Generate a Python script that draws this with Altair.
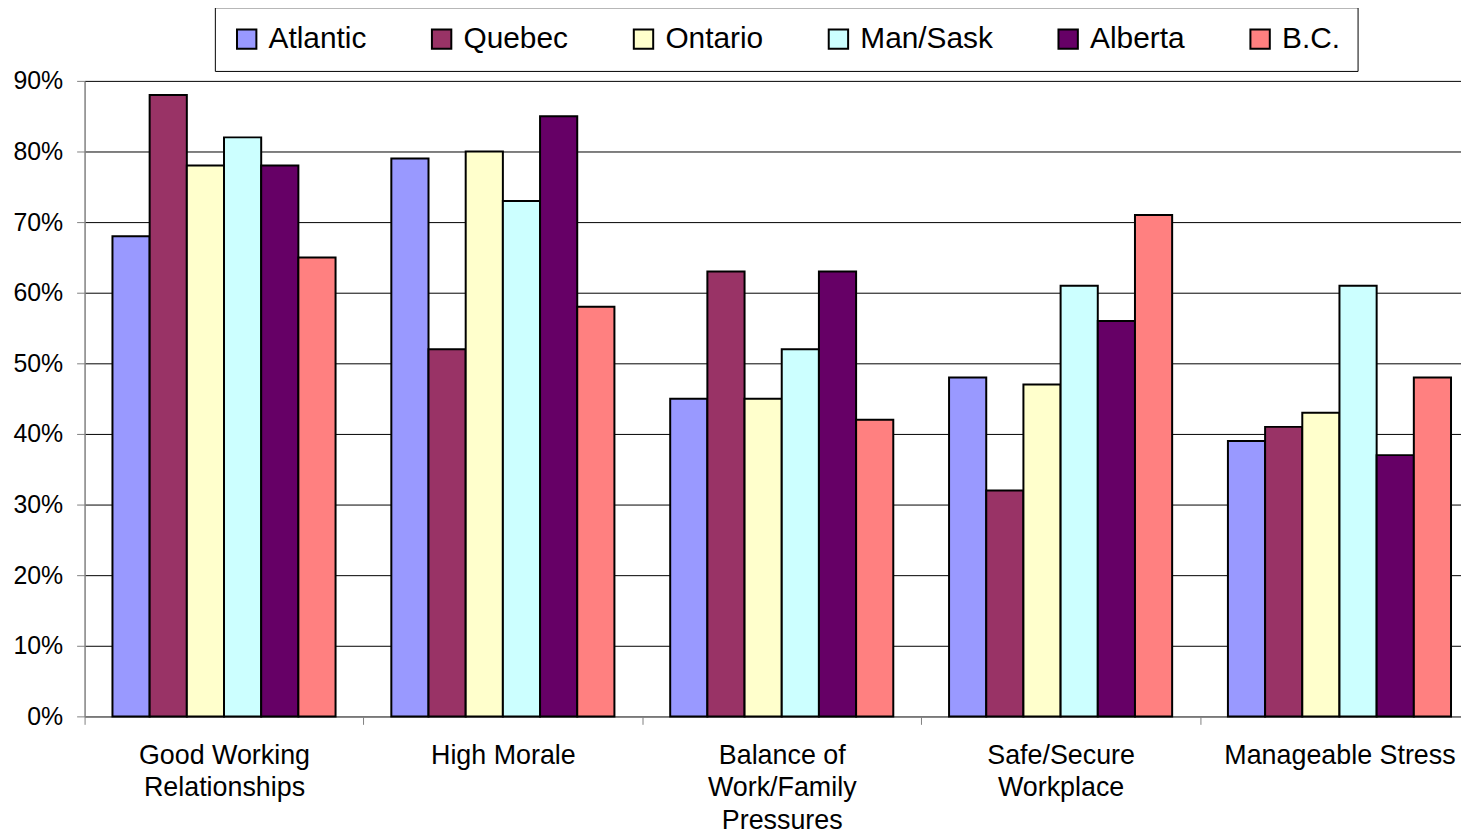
import altair as alt
import pandas as pd

categories = ["Good Working Relationships", "High Morale", "Balance of Work/Family Pressures",
              "Safe/Secure Workplace", "Manageable Stress"]
category_labels = ["Good Working|Relationships", "High Morale", "Balance of|Work/Family|Pressures",
                   "Safe/Secure|Workplace", "Manageable Stress"]
regions = ["Atlantic", "Quebec", "Ontario", "Man/Sask", "Alberta", "B.C."]
colors = ["#9999FF", "#993366", "#FFFFCC", "#CCFFFF", "#660066", "#FF8080"]

atlantic = [0.68, 0.79, 0.45, 0.48, 0.39]
quebec = [0.88, 0.52, 0.63, 0.32, 0.41]
ontario = [0.78, 0.80, 0.45, 0.47, 0.43]
mansask = [0.82, 0.73, 0.52, 0.61, 0.61]
alberta = [0.78, 0.85, 0.63, 0.56, 0.37]
bc = [0.65, 0.58, 0.42, 0.71, 0.48]

series = [atlantic, quebec, ontario, mansask, alberta, bc]
rows = []
for r, vals in zip(regions, series):
    for c, lab, v in zip(categories, category_labels, vals):
        rows.append({"Region": r, "Category": lab, "Value": v})
df = pd.DataFrame(rows)

FONT = "Liberation Sans"
W = 1402
STEP = W / 5

chart = alt.Chart(df).mark_bar(stroke="black", strokeWidth=2).encode(
    x=alt.X("Category:N", sort=category_labels, title=None,
            scale=alt.Scale(paddingInner=0.2, paddingOuter=0.1),
            axis=alt.Axis(labelAngle=0, labelExpr="split(datum.label, '|')",
                          labelFont=FONT, labelFontSize=27, labelColor="black",
                          labelPadding=18, labelLineHeight=33, labelBaseline="top",
                          labelLimit=0,
                          tickOffset=-STEP / 2, labelOffset=STEP / 2, tickSize=8,
                          tickColor="#808080", domainColor="#808080", domainWidth=1.5)),
    xOffset=alt.XOffset("Region:N", sort=regions),
    y=alt.Y("Value:Q", title=None,
            scale=alt.Scale(domain=[0, 0.9], nice=False),
            axis=alt.Axis(format=".0%", values=[i / 10 for i in range(10)],
                          labelFont=FONT, labelFontSize=25, labelColor="black",
                          labelPadding=14, tickSize=8, tickColor="#808080",
                          domainColor="#808080", domainWidth=1.5,
                          grid=True, gridColor="black", gridWidth=1)),
    color=alt.Color("Region:N", sort=regions,
                    scale=alt.Scale(domain=regions, range=colors),
                    legend=alt.Legend(title=None, orient="none", direction="horizontal",
                                      legendX=131, legendY=-74,
                                      labelFont=FONT, labelFontSize=30, labelColor="black",
                                      symbolType="square", symbolSize=380,
                                      symbolStrokeColor="black", symbolStrokeWidth=2,
                                      labelOffset=7, columnPadding=60,
                                      strokeColor="black", padding=17,
                                      fillColor="white")),
).properties(
    width=W, height=639,
    autosize=alt.AutoSizeParams(type="none"),
    padding={"left": 77, "top": 71, "right": -18, "bottom": 120},
).configure_view(stroke=None)

chart.save("out.html", embed_options={"renderer": "svg", "actions": False})
